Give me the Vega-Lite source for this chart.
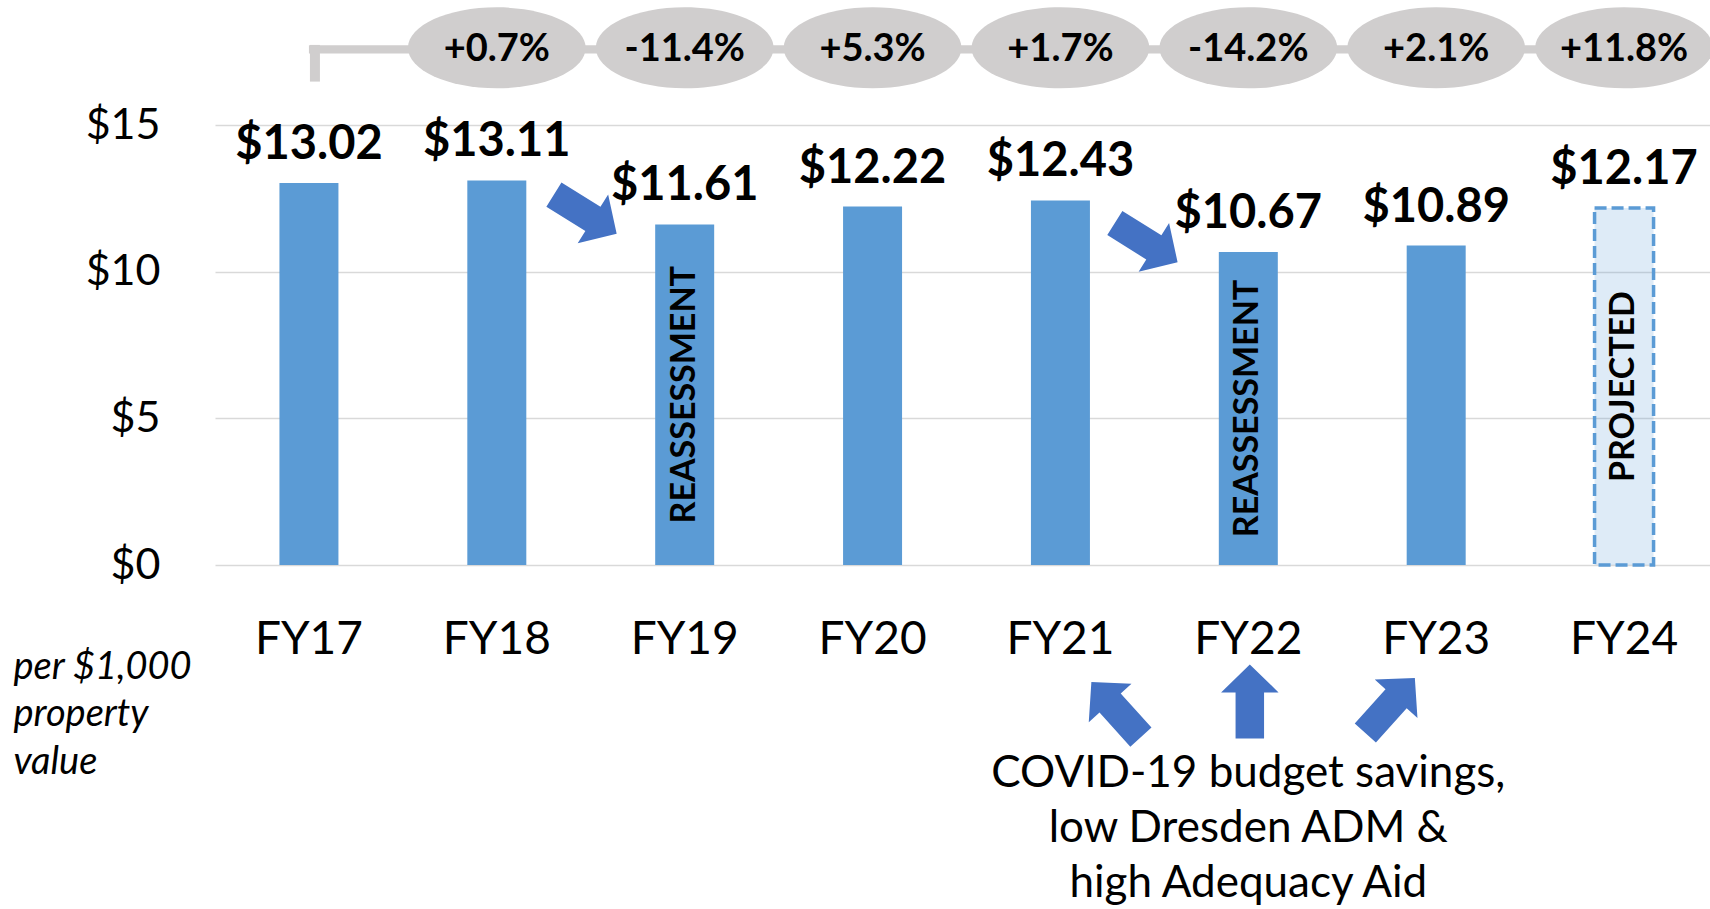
{
  "$schema": "https://vega.github.io/schema/vega-lite/v6.json",
  "width": 1503,
  "height": 440,
  "autosize": {"type": "none"},
  "padding": {"left": 215, "top": 125, "right": -8, "bottom": 344},
  "background": "white",
  "config": {"view": {"stroke": null}, "font": "Lato"},
  "datasets": {
    "rates": [
      {"year": "FY17", "rate": 13.02, "status": "actual"},
      {"year": "FY18", "rate": 13.11, "status": "actual"},
      {"year": "FY19", "rate": 11.61, "status": "actual", "note": "REASSESSMENT"},
      {"year": "FY20", "rate": 12.22, "status": "actual"},
      {"year": "FY21", "rate": 12.43, "status": "actual"},
      {"year": "FY22", "rate": 10.67, "status": "actual", "note": "REASSESSMENT"},
      {"year": "FY23", "rate": 10.89, "status": "actual"},
      {"year": "FY24", "rate": 12.17, "status": "projected", "note": "PROJECTED"}
    ],
    "changes": [
      {"year": "FY18", "change": "+0.7%"},
      {"year": "FY19", "change": "-11.4%"},
      {"year": "FY20", "change": "+5.3%"},
      {"year": "FY21", "change": "+1.7%"},
      {"year": "FY22", "change": "-14.2%"},
      {"year": "FY23", "change": "+2.1%"},
      {"year": "FY24", "change": "+11.8%"}
    ],
    "notes": [
      {"note": "COVID-19 budget savings,\nlow Dresden ADM &\nhigh Adequacy Aid"}
    ]
  },
  "data": {"name": "rates"},
  "encoding": {
    "x": {
      "field": "year",
      "type": "nominal",
      "sort": null,
      "scale": {
        "domain": ["FY17", "FY18", "FY19", "FY20", "FY21", "FY22", "FY23", "FY24"],
        "paddingInner": 0.686,
        "paddingOuter": 0.343
      },
      "axis": {
        "title": null,
        "domain": false,
        "ticks": false,
        "tickSize": 0,
        "grid": false,
        "labelAngle": 0,
        "labelFont": "Lato",
        "labelFontSize": 46,
        "labelColor": "black",
        "labelPadding": 88,
        "labelBaseline": "alphabetic"
      }
    }
  },
  "layer": [
    {
      "transform": [{"filter": "datum.status === 'actual'"}],
      "mark": {"type": "bar", "color": "#5B9BD5"},
      "encoding": {
        "y": {
          "field": "rate",
          "type": "quantitative",
          "scale": {"domain": [0, 15], "nice": false},
          "axis": {
            "values": [0, 5, 10, 15],
            "format": "$,.0f",
            "domain": false,
            "ticks": false,
            "tickSize": 0,
            "grid": true,
            "gridColor": "#D9D9D9",
            "gridWidth": 1.5,
            "labelPadding": 55,
            "labelFont": "Lato",
            "labelFontSize": 43,
            "labelColor": "black",
            "title": ["per $1,000", "property", "value"],
            "titleFont": "Lato",
            "titleFontStyle": "italic",
            "titleFontWeight": "normal",
            "titleFontSize": 38,
            "titleColor": "black",
            "titleAngle": 0,
            "titleAlign": "left",
            "titleBaseline": "alphabetic",
            "titleX": -202,
            "titleY": 553,
            "titleLineHeight": 47.5
          }
        }
      }
    },
    {
      "transform": [{"filter": "datum.status === 'projected'"}],
      "mark": {
        "type": "bar",
        "fill": "#5B9BD5",
        "fillOpacity": 0.2,
        "stroke": "#5B9BD5",
        "strokeWidth": 3.5,
        "strokeDash": [12, 5]
      },
      "encoding": {
        "y": {"field": "rate", "type": "quantitative", "scale": {"domain": [0, 15], "nice": false}}
      }
    },
    {
      "mark": {
        "type": "text",
        "font": "Lato",
        "fontWeight": "bold",
        "fontSize": 47,
        "baseline": "alphabetic",
        "align": "center",
        "dy": -24,
        "color": "black"
      },
      "encoding": {
        "y": {"field": "rate", "type": "quantitative", "scale": {"domain": [0, 15], "nice": false}},
        "text": {"field": "rate", "type": "quantitative", "format": "$.2f"}
      }
    },
    {
      "transform": [{"filter": "datum.note"}],
      "mark": {
        "type": "text",
        "font": "Lato",
        "fontWeight": "bold",
        "fontSize": 34,
        "angle": 270,
        "align": "center",
        "baseline": "middle",
        "color": "black"
      },
      "encoding": {
        "y": {
          "field": "rate",
          "type": "quantitative",
          "stack": "zero",
          "bandPosition": 0.5,
          "scale": {"domain": [0, 15], "nice": false}
        },
        "text": {"field": "note", "type": "nominal"}
      }
    },
    {
      "data": {"values": [{"line": "change connector"}]},
      "mark": {"type": "rule", "color": "#D0CECE", "strokeWidth": 8.3},
      "encoding": {
        "x": {"datum": "FY17"},
        "x2": {"datum": "FY24"},
        "y": {"datum": 17.58, "type": "quantitative", "scale": {"domain": [0, 15], "nice": false}}
      }
    },
    {
      "data": {"values": [{"line": "change connector start"}]},
      "mark": {"type": "rule", "color": "#D0CECE", "strokeWidth": 10, "xOffset": 6},
      "encoding": {
        "x": {"datum": "FY17"},
        "y": {"datum": 17.73, "type": "quantitative", "scale": {"domain": [0, 15], "nice": false}},
        "y2": {"datum": 16.48}
      }
    },
    {
      "data": {"name": "changes"},
      "mark": {
        "type": "point",
        "shape": "M-1,0C-1,-0.252,-0.552,-0.456,0,-0.456C0.552,-0.456,1,-0.252,1,0C1,0.252,0.552,0.456,0,0.456C-0.552,0.456,-1,0.252,-1,0Z",
        "size": 31577,
        "filled": true,
        "color": "#D0CECE",
        "opacity": 1
      },
      "encoding": {
        "y": {"datum": 17.63, "type": "quantitative", "scale": {"domain": [0, 15], "nice": false}}
      }
    },
    {
      "data": {"name": "changes"},
      "mark": {
        "type": "text",
        "font": "Lato",
        "fontWeight": "bold",
        "fontSize": 38,
        "align": "center",
        "baseline": "middle",
        "dy": 2,
        "color": "black"
      },
      "encoding": {
        "y": {"datum": 17.63, "type": "quantitative", "scale": {"domain": [0, 15], "nice": false}},
        "text": {"field": "change", "type": "nominal"}
      }
    },
    {
      "data": {"values": [{"arrow": "FY18 to FY19 reassessment"}]},
      "mark": {
        "type": "point",
        "shape": "M0,-1L0.777,-0.243L0.385,-0.243L0.385,1L-0.385,1L-0.385,-0.243L-0.777,-0.243Z",
        "size": 5476,
        "angle": 122,
        "filled": true,
        "color": "#4472C4",
        "opacity": 1,
        "xOffset": -99.4
      },
      "encoding": {
        "x": {"datum": "FY19"},
        "y": {"datum": 11.96, "type": "quantitative", "scale": {"domain": [0, 15], "nice": false}}
      }
    },
    {
      "data": {"values": [{"arrow": "FY21 to FY22 reassessment"}]},
      "mark": {
        "type": "point",
        "shape": "M0,-1L0.777,-0.243L0.385,-0.243L0.385,1L-0.385,1L-0.385,-0.243L-0.777,-0.243Z",
        "size": 5476,
        "angle": 122,
        "filled": true,
        "color": "#4472C4",
        "opacity": 1,
        "xOffset": -102.1
      },
      "encoding": {
        "x": {"datum": "FY22"},
        "y": {"datum": 10.99, "type": "quantitative", "scale": {"domain": [0, 15], "nice": false}}
      }
    },
    {
      "data": {"values": [{"arrow": "COVID note to FY21"}]},
      "mark": {
        "type": "point",
        "shape": "M0,-1L0.777,-0.243L0.385,-0.243L0.385,1L-0.385,1L-0.385,-0.243L-0.777,-0.243Z",
        "size": 5476,
        "angle": 318,
        "filled": true,
        "color": "#4472C4",
        "opacity": 1,
        "xOffset": 55.7
      },
      "encoding": {
        "x": {"datum": "FY21"},
        "y": {"datum": -4.93, "type": "quantitative", "scale": {"domain": [0, 15], "nice": false}}
      }
    },
    {
      "data": {"values": [{"arrow": "COVID note to FY22"}]},
      "mark": {
        "type": "point",
        "shape": "M0,-1L0.777,-0.243L0.385,-0.243L0.385,1L-0.385,1L-0.385,-0.243L-0.777,-0.243Z",
        "size": 5476,
        "angle": 0,
        "filled": true,
        "color": "#4472C4",
        "opacity": 1,
        "xOffset": 1.5
      },
      "encoding": {
        "x": {"datum": "FY22"},
        "y": {"datum": -4.65, "type": "quantitative", "scale": {"domain": [0, 15], "nice": false}}
      }
    },
    {
      "data": {"values": [{"arrow": "COVID note to FY23"}]},
      "mark": {
        "type": "point",
        "shape": "M0,-1L0.777,-0.243L0.385,-0.243L0.385,1L-0.385,1L-0.385,-0.243L-0.777,-0.243Z",
        "size": 5476,
        "angle": 42,
        "filled": true,
        "color": "#4472C4",
        "opacity": 1,
        "xOffset": -46.1
      },
      "encoding": {
        "x": {"datum": "FY23"},
        "y": {"datum": -4.79, "type": "quantitative", "scale": {"domain": [0, 15], "nice": false}}
      }
    },
    {
      "data": {"name": "notes"},
      "mark": {
        "type": "text",
        "font": "Lato",
        "fontSize": 44,
        "align": "center",
        "baseline": "alphabetic",
        "lineBreak": "\n",
        "lineHeight": 55,
        "color": "black"
      },
      "encoding": {
        "x": {"datum": "FY22"},
        "y": {"datum": -7.56, "type": "quantitative", "scale": {"domain": [0, 15], "nice": false}},
        "text": {"field": "note", "type": "nominal"}
      }
    }
  ]
}
